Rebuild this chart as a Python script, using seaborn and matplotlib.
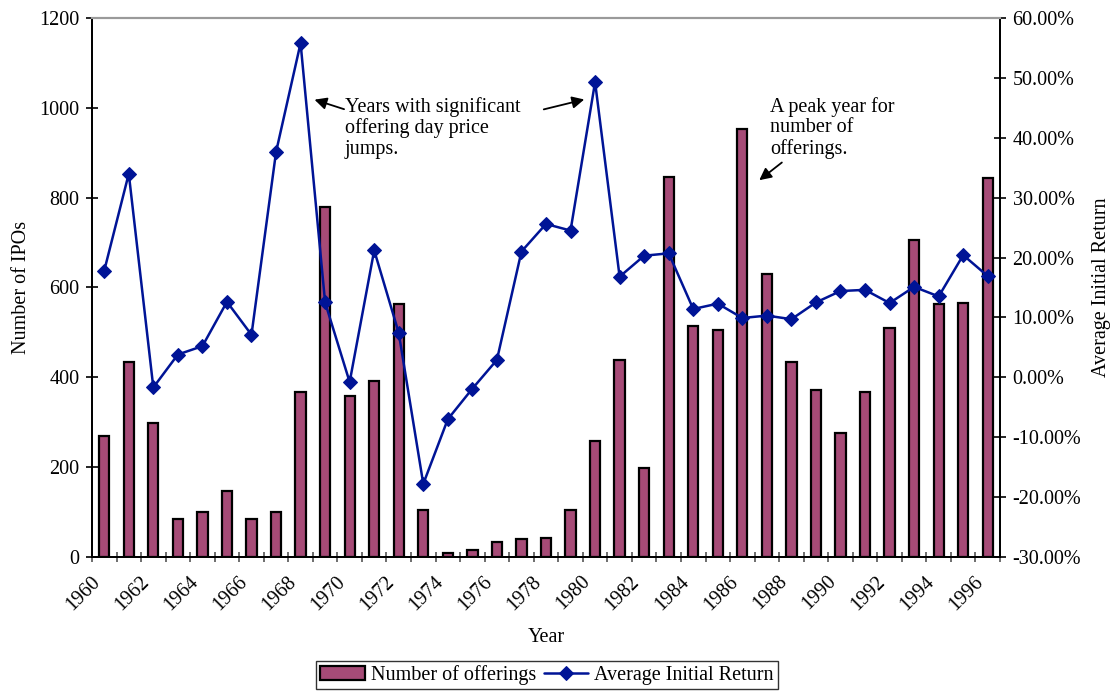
import numpy as np
import pandas as pd
import matplotlib
matplotlib.use("Agg")
import matplotlib.pyplot as plt
from matplotlib.ticker import FuncFormatter, MultipleLocator, FixedLocator
from matplotlib.transforms import ScaledTranslation
import seaborn as sns

years = list(range(1960, 1997))
offerings = [269, 435, 299, 84, 99, 147, 85, 101, 368, 780,
             358, 392, 563, 105, 9, 15, 34, 41, 43, 104,
             259, 438, 199, 847, 515, 506, 953, 630, 435, 372,
             277, 367, 509, 706, 564, 566, 843]
avg_return = [17.8, 34.0, -1.7, 3.8, 5.2, 12.6, 7.1, 37.6, 55.8, 12.5,
              -0.8, 21.2, 7.4, -17.8, -7.0, -1.9, 2.9, 21.0, 25.6, 24.5,
              49.3, 16.8, 20.3, 20.7, 11.4, 12.3, 9.9, 10.3, 9.7, 12.5,
              14.4, 14.6, 12.4, 15.1, 13.5, 20.4, 16.9]

df = pd.DataFrame({"Year": years, "Offerings": offerings, "Return": avg_return})

sns.set_theme(style="white")
plt.rcParams["font.family"] = ["Liberation Serif", "DejaVu Serif"]
FS = 14.5
plt.rcParams.update({
    "font.size": FS,
    "text.color": "black",
    "axes.labelcolor": "black",
    "xtick.color": "black",
    "ytick.color": "black",
})

bar_color = "#A64B77"
line_color = "#001496"

fig = plt.figure(figsize=(11.12, 6.91), dpi=100)
ax = fig.add_axes([0.0827, 0.194, 0.8166, 0.780])

sns.barplot(data=df, x="Year", y="Offerings", native_scale=True, width=0.42,
            color=bar_color, edgecolor="black", linewidth=1.6, saturation=1,
            ax=ax, label="Number of offerings")

ax2 = ax.twinx()
sns.lineplot(data=df, x="Year", y="Return", color=line_color, linewidth=1.8,
             marker="D", markersize=7.5, markeredgecolor=line_color,
             ax=ax2, label="Average Initial Return")

ax.set_xlim(years[0] - 0.5, years[-1] + 0.5)
ax.set_ylim(0, 1200)
ax2.set_ylim(-30, 60)

ax.yaxis.set_major_locator(MultipleLocator(200))
ax2.yaxis.set_major_locator(MultipleLocator(10))
ax2.yaxis.set_major_formatter(FuncFormatter(lambda v, p: f"{v:.2f}%"))

even_years = years[::2]
ax.xaxis.set_major_locator(FixedLocator(even_years))
ax.set_xticklabels([str(y) for y in even_years], rotation=45, ha="right",
                   rotation_mode="anchor")
ax.xaxis.set_minor_locator(FixedLocator(np.arange(years[0] - 0.5, years[-1] + 1, 1)))
ax.tick_params(axis="x", which="major", length=0, pad=11, labelsize=FS,
               labelcolor="black")
ax.tick_params(axis="x", which="minor", length=7, width=1.2, direction="inout",
               color="#555555", bottom=True)
ax.tick_params(axis="y", length=8, width=1.2, direction="inout", left=True,
               color="black", labelsize=FS, pad=5, labelcolor="black")
ax2.tick_params(axis="y", length=8, width=1.2, direction="inout", right=True,
                color="black", labelsize=FS, pad=5, labelcolor="black")

# nudge the slanted year labels left so they end under each bar
shift = ScaledTranslation(-10 / 72, 0, fig.dpi_scale_trans)
for lbl in ax.get_xticklabels():
    lbl.set_transform(lbl.get_transform() + shift)

for a in (ax, ax2):
    for side in ("left", "right", "bottom"):
        a.spines[side].set_color("black")
        a.spines[side].set_linewidth(1.3)
    a.spines["top"].set_color("#9a9a9a")
    a.spines["top"].set_linewidth(1.5)

ax.set_xlabel("Year", fontsize=FS, labelpad=10)
ax.set_ylabel("Number of IPOs", fontsize=FS, labelpad=6)
ax2.set_ylabel("Average Initial Return", fontsize=FS, labelpad=8)

# Annotations
ax.text(1969.81, 1024, "Years with significant\noffering day price\njumps.",
        fontsize=FS, va="top", ha="left", linespacing=1.1, color="black")
arrow_kw = dict(arrowstyle="-|>", color="black", lw=1.3, mutation_scale=18)
ax.annotate("", xy=(1968.46, 1020), xytext=(1969.88, 995), arrowprops=arrow_kw)
ax.annotate("", xy=(1979.67, 1020), xytext=(1977.8, 995), arrowprops=arrow_kw)
ax.text(1987.13, 1024, "A peak year for\nnumber of\nofferings.",
        fontsize=FS, va="top", ha="left", linespacing=1.1, color="black")
ax.annotate("", xy=(1986.6, 835), xytext=(1987.7, 882), arrowprops=arrow_kw)

# Combined legend below the chart
h1, l1 = ax.get_legend_handles_labels()
h2, l2 = ax2.get_legend_handles_labels()
if ax.get_legend():
    ax.get_legend().remove()
if ax2.get_legend():
    ax2.get_legend().remove()
leg = fig.legend(h1 + h2, l1 + l2, loc="lower center", bbox_to_anchor=(0.492, 0.0),
                 ncol=2, frameon=True, fancybox=False, fontsize=FS,
                 handlelength=2.2, handletextpad=0.3, columnspacing=0.4,
                 borderpad=0.2, borderaxespad=0.1)
leg.get_frame().set_edgecolor("black")
leg.get_frame().set_linewidth(1.0)

fig.savefig("out.png", dpi=100)
